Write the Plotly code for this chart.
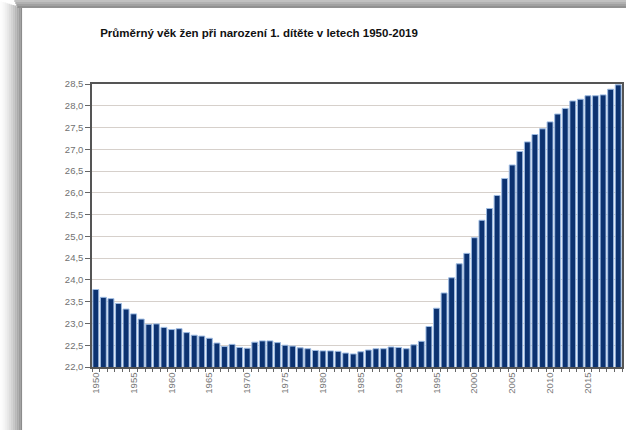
import plotly.graph_objects as go

years = list(range(1950, 2020))
mean_age = [
    23.78, 23.60, 23.57, 23.46, 23.33, 23.22, 23.10, 22.98, 22.99, 22.91,
    22.86, 22.88, 22.79, 22.73, 22.71, 22.66, 22.55, 22.47, 22.52, 22.45,
    22.43, 22.57, 22.60, 22.60, 22.56, 22.50, 22.48, 22.44, 22.42, 22.38,
    22.37, 22.37, 22.36, 22.32, 22.30, 22.35, 22.39, 22.42, 22.42, 22.46,
    22.45, 22.42, 22.51, 22.59, 22.93, 23.35, 23.70, 24.05, 24.37, 24.61,
    24.97, 25.37, 25.64, 25.94, 26.33, 26.64, 26.95, 27.17, 27.34, 27.47,
    27.63, 27.81, 27.94, 28.11, 28.15, 28.23, 28.23, 28.25, 28.38, 28.48,
]
x_tick_years = list(range(1950, 2020, 5))
y_ticks = [22.0 + 0.5 * k for k in range(14)]
title_text = "Průměrný věk žen při narození 1. dítěte v letech 1950-2019"

W, H = 628, 430
L, R, T, B = 92, 624, 84, 367


def px_x(p):
    return (p - L) / (R - L)


def px_y(p):
    return (B - p) / (B - T)


fig = go.Figure(
    go.Bar(
        x=years,
        y=mean_age,
        marker=dict(color="#0c3270", line=dict(color="#9dbbe2", width=1)),
        hoverinfo="x+y",
    )
)

shapes = []
# left shadow gradient
n = 11
for k in range(n):
    t = (k + 1) / n
    c = int(255 - (255 - 140) * t ** 1.6)
    shapes.append(dict(type="rect", xref="paper", yref="paper",
                       x0=px_x(k * 2), x1=px_x(k * 2 + 2),
                       y0=px_y(H), y1=px_y(max(0, 8 - (n - k) * 0.6)),
                       fillcolor=f"rgb({c},{c},{c})", line=dict(width=0),
                       layer="below"))
# top shadow gradient
m = 4
for k in range(m):
    t = (k + 1) / m
    c = int(210 - (210 - 145) * t)
    shapes.append(dict(type="rect", xref="paper", yref="paper",
                       x0=px_x(14 + k), x1=px_x(W),
                       y0=px_y(k * 2 + 2), y1=px_y(k * 2),
                       fillcolor=f"rgb({c},{c},{c})", line=dict(width=0),
                       layer="below"))
# inner white panel
shapes.append(dict(type="rect", xref="paper", yref="paper",
                   x0=px_x(22), x1=px_x(W + 2), y0=px_y(H + 2), y1=px_y(8),
                   fillcolor="white", line=dict(width=0), layer="below"))

fig.update_layout(
    width=W, height=H,
    margin=dict(l=L, r=W - R, t=T, b=H - B, pad=0),
    paper_bgcolor="white",
    plot_bgcolor="white",
    separators=", ",
    showlegend=False,
    bargap=0.22,
    shapes=shapes,
    title=dict(
        text="<b>" + title_text + "</b>",
        x=259 / W, xanchor="center",
        y=1 - 33 / H, yanchor="middle",
        font=dict(family="Liberation Sans Narrow, Liberation Sans, Arial", size=11.5, color="#111111"),
    ),
    xaxis=dict(
        range=[1949.5, 2019.5],
        tickmode="array",
        tickvals=x_tick_years,
        ticktext=[str(v) for v in x_tick_years],
        tickangle=-90,
        ticks="",
        tickfont=dict(family="Liberation Sans, Arial", size=9.5, color="#777777"),
        showgrid=False,
        showline=True, linecolor="#555555", linewidth=1.5,
        mirror=True,
        minor=dict(tick0=1949.5, dtick=1, ticks="outside", ticklen=3,
                   tickcolor="#666666", showgrid=False),
        zeroline=False,
        fixedrange=True,
    ),
    yaxis=dict(
        range=[22.0, 28.5],
        tickmode="array",
        tickvals=y_ticks,
        tickformat=".1f",
        ticks="outside", ticklen=5, tickcolor="#666666",
        tickfont=dict(family="Liberation Sans, Arial", size=9.5, color="#707070"),
        showgrid=True, gridcolor="#d6d0cb", gridwidth=1.3,
        showline=True, linecolor="#555555", linewidth=1.5,
        mirror=True,
        zeroline=False,
        fixedrange=True,
    ),
)

fig.write_html(
    "out.html",
    config={"displayModeBar": False},
    post_script="document.body.style.margin='0';document.body.style.overflow='hidden';",
)
